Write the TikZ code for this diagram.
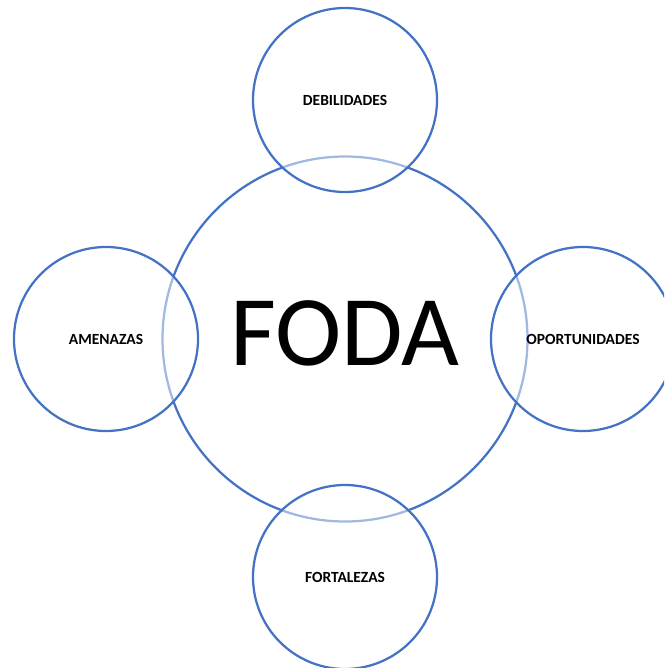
\documentclass[tikz,border=0pt]{standalone}
\usepackage{fontspec}
\setmainfont{Carlito}
\definecolor{officeblue}{HTML}{4472C4}

\begin{document}
\begin{tikzpicture}[x=1pt, y=-1pt,
    core/.style = {circle, draw=officeblue, line width=2.25pt, minimum size=365pt, inner sep=0pt, text depth=12pt, font=\fontsize{100}{110}\selectfont},
    factor/.style = {circle, draw=officeblue, line width=2.25pt, fill=white, fill opacity=0.5, draw opacity=1, text opacity=1, minimum size=184pt, inner sep=0pt, font=\fontsize{15.5}{18}\bfseries\selectfont}]
  % Page.
  \useasboundingbox (0, 0) rectangle (664, 668);
  \clip (0, 0) rectangle (664, 668);

  % Centre.
  \node at (345, 339) [core, name=Foda] {FODA};

  % Four factors.
  \node at (345, 100) [factor, name=Debilidades] {DEBILIDADES};
  \node at (106, 339) [factor, name=Amenazas] {AMENAZAS};
  \node at (583, 339) [factor, name=Oportunidades] {OPORTUNIDADES};
  \node at (345, 577) [factor, name=Fortalezas] {FORTALEZAS};
\end{tikzpicture}
\end{document}
